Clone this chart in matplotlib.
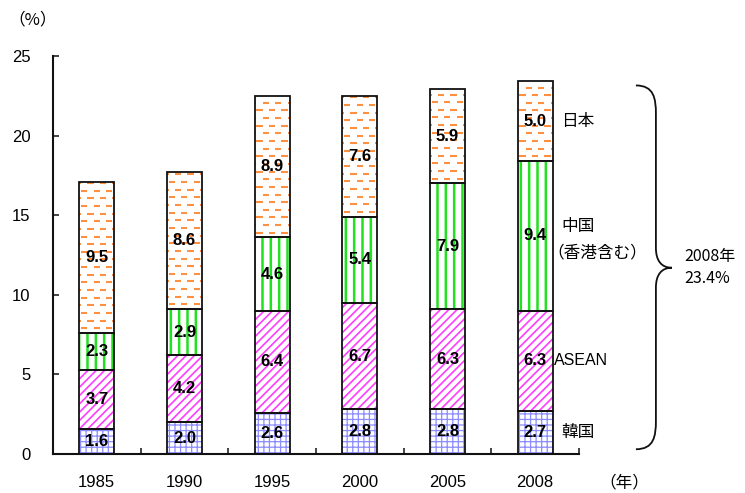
import numpy as np
import matplotlib.pyplot as plt
from matplotlib.collections import LineCollection
from matplotlib.path import Path
from matplotlib.patches import PathPatch
from matplotlib.ticker import FixedLocator

plt.rcParams['font.family'] = ['Noto Sans CJK JP', 'DejaVu Sans']
NUM_FONT = ['Liberation Sans', 'DejaVu Sans']

# Share of total (%) by region, stacked bottom to top
years = ['1985', '1990', '1995', '2000', '2005', '2008']
korea = [1.6, 2.0, 2.6, 2.8, 2.8, 2.7]
asean = [3.7, 4.2, 6.4, 6.7, 6.3, 6.3]
china = [2.3, 2.9, 4.6, 5.4, 7.9, 9.4]
japan = [9.5, 8.6, 8.9, 7.6, 5.9, 5.0]
total_2008 = 23.4

series = [korea, asean, china, japan]

# fill pattern per region: (hatch, pattern colour, hatch line width)
STYLES = [
    ('+++', '#8C8CFF', 0.9),
    ('////', '#FF3CFF', 1.2),
    ('||', '#22E022', 1.8),
    (None, '#FF9040', 1.5),   # dashed pattern drawn by hand below
]

fig = plt.figure(figsize=(7.45, 4.93), dpi=100)
ax = fig.add_axes([0.0711, 0.0791, 0.7060, 0.8073])

x = np.arange(len(years))
width = 0.4
bottom = np.zeros(len(years))
seg_mid = []

for vals, (hatch, pcolor, hlw) in zip(series, STYLES):
    vals = np.asarray(vals, dtype=float)
    if hatch:
        hb = ax.bar(x, vals, width, bottom=bottom, color='white',
                    edgecolor=pcolor, hatch=hatch, linewidth=0, zorder=2)
        for p in hb:
            if hasattr(p, 'set_hatch_linewidth'):
                p.set_hatch_linewidth(hlw)
    else:
        ax.bar(x, vals, width, bottom=bottom, color='white', linewidth=0,
               zorder=2)
    ob = ax.bar(x, vals, width, bottom=bottom, fill=False,
                edgecolor='#111111', linewidth=1.3, zorder=4)

    if hatch is None:
        # staggered short dashes, clipped to each segment
        dx, dash, dy = 0.1426, 0.072, 0.48
        for xi, b, v, rect in zip(x, bottom, vals, ob):
            segs = []
            yy = b + 0.3
            row = 0
            while yy < b + v:
                off = (row % 2) * dx / 2
                xs = np.arange(xi - width / 2 + 0.02 - dx + off,
                               xi + width / 2, dx)
                segs += [[(s, yy), (s + dash, yy)] for s in xs]
                yy += dy
                row += 1
            lc = LineCollection(segs, colors=pcolor, linewidths=hlw,
                                zorder=3)
            ax.add_collection(lc)
            lc.set_clip_path(rect)

    for xi, b, v in zip(x, bottom, vals):
        ax.text(xi, b + v / 2, f'{v:.1f}', ha='center', va='center',
                fontsize=12, fontweight='bold', family=NUM_FONT, zorder=5)
    seg_mid.append(bottom[-1] + vals[-1] / 2)
    bottom = bottom + vals

# region names beside the 2008 bar
xr = x[-1] + width / 2
ax.annotate('韓国', (xr, seg_mid[0]), xytext=(6, 0), textcoords='offset points',
            ha='left', va='center', fontsize=12, annotation_clip=False)
ax.annotate('ASEAN', (xr, seg_mid[1]), xytext=(1, 0), textcoords='offset points',
            ha='left', va='center', fontsize=11.5, family=NUM_FONT,
            annotation_clip=False)
ax.annotate('中国', (xr, seg_mid[2]), xytext=(6, 7), textcoords='offset points',
            ha='left', va='center', fontsize=12, annotation_clip=False)
ax.annotate('（香港含む）', (xr, seg_mid[2]), xytext=(-4, -12),
            textcoords='offset points', ha='left', va='center', fontsize=12,
            annotation_clip=False)
ax.annotate('日本', (xr, seg_mid[3]), xytext=(6, 0), textcoords='offset points',
            ha='left', va='center', fontsize=12, annotation_clip=False)

# curly brace spanning the 2008 stack
x0, xm, xt = 6.15, 6.378, 6.56
ytop, ybot, ymid = total_2008 - 0.25, 0.3, total_2008 / 2
r, r2 = 1.8, 1.25
verts = [
    (x0, ytop), (x0 + (xm - x0) * 0.9, ytop), (xm, ytop - r * 0.45), (xm, ytop - r),
    (xm, ymid + r2),
    (xm, ymid + r2 * 0.35), (xm + (xt - xm) * 0.35, ymid), (xt, ymid),
    (xm + (xt - xm) * 0.35, ymid), (xm, ymid - r2 * 0.35), (xm, ymid - r2),
    (xm, ybot + r),
    (xm, ybot + r * 0.45), (x0 + (xm - x0) * 0.9, ybot), (x0, ybot),
]
codes = ([Path.MOVETO] + [Path.CURVE4] * 3 + [Path.LINETO] + [Path.CURVE4] * 6
         + [Path.LINETO] + [Path.CURVE4] * 3)
ax.add_patch(PathPatch(Path(verts, codes), fill=False, edgecolor='#111111',
                       linewidth=1.3, clip_on=False))
ax.annotate('2008年', (xt, ymid), xytext=(9, 8), textcoords='offset points',
            ha='left', va='center', fontsize=11.5, annotation_clip=False)
ax.annotate('23.4%', (xt, ymid), xytext=(9, -8), textcoords='offset points',
            ha='left', va='center', fontsize=11.5, annotation_clip=False)

# axes
ax.set_xlim(-0.5, len(years) - 0.5)
ax.set_ylim(0, 25)
ax.set_yticks(np.arange(0, 26, 5))
ax.set_xticks(x)
ax.set_xticklabels(years)
ax.xaxis.set_minor_locator(FixedLocator(np.arange(0.5, len(years), 1.0)))
ax.tick_params(axis='x', which='major', length=0, pad=15, labelsize=12)
ax.tick_params(axis='x', which='minor', direction='in', length=4, width=1.1,
               color='#111111')
ax.tick_params(axis='y', direction='in', length=4, width=1.1, pad=16,
               labelsize=12, color='#111111')
for lbl in ax.get_xticklabels() + ax.get_yticklabels():
    lbl.set_family(NUM_FONT)
for side in ('top', 'right'):
    ax.spines[side].set_visible(False)
for side in ('left', 'bottom'):
    ax.spines[side].set_linewidth(1.5)
    ax.spines[side].set_color('#111111')

fig.text(33 / 745, 1 - 20 / 493, '（%）', ha='center', va='center', fontsize=12)
fig.text(624 / 745, 1 - 483 / 493, '（年）', ha='center', va='center',
         fontsize=12)

fig.savefig('out.png', dpi=100, facecolor='white')
